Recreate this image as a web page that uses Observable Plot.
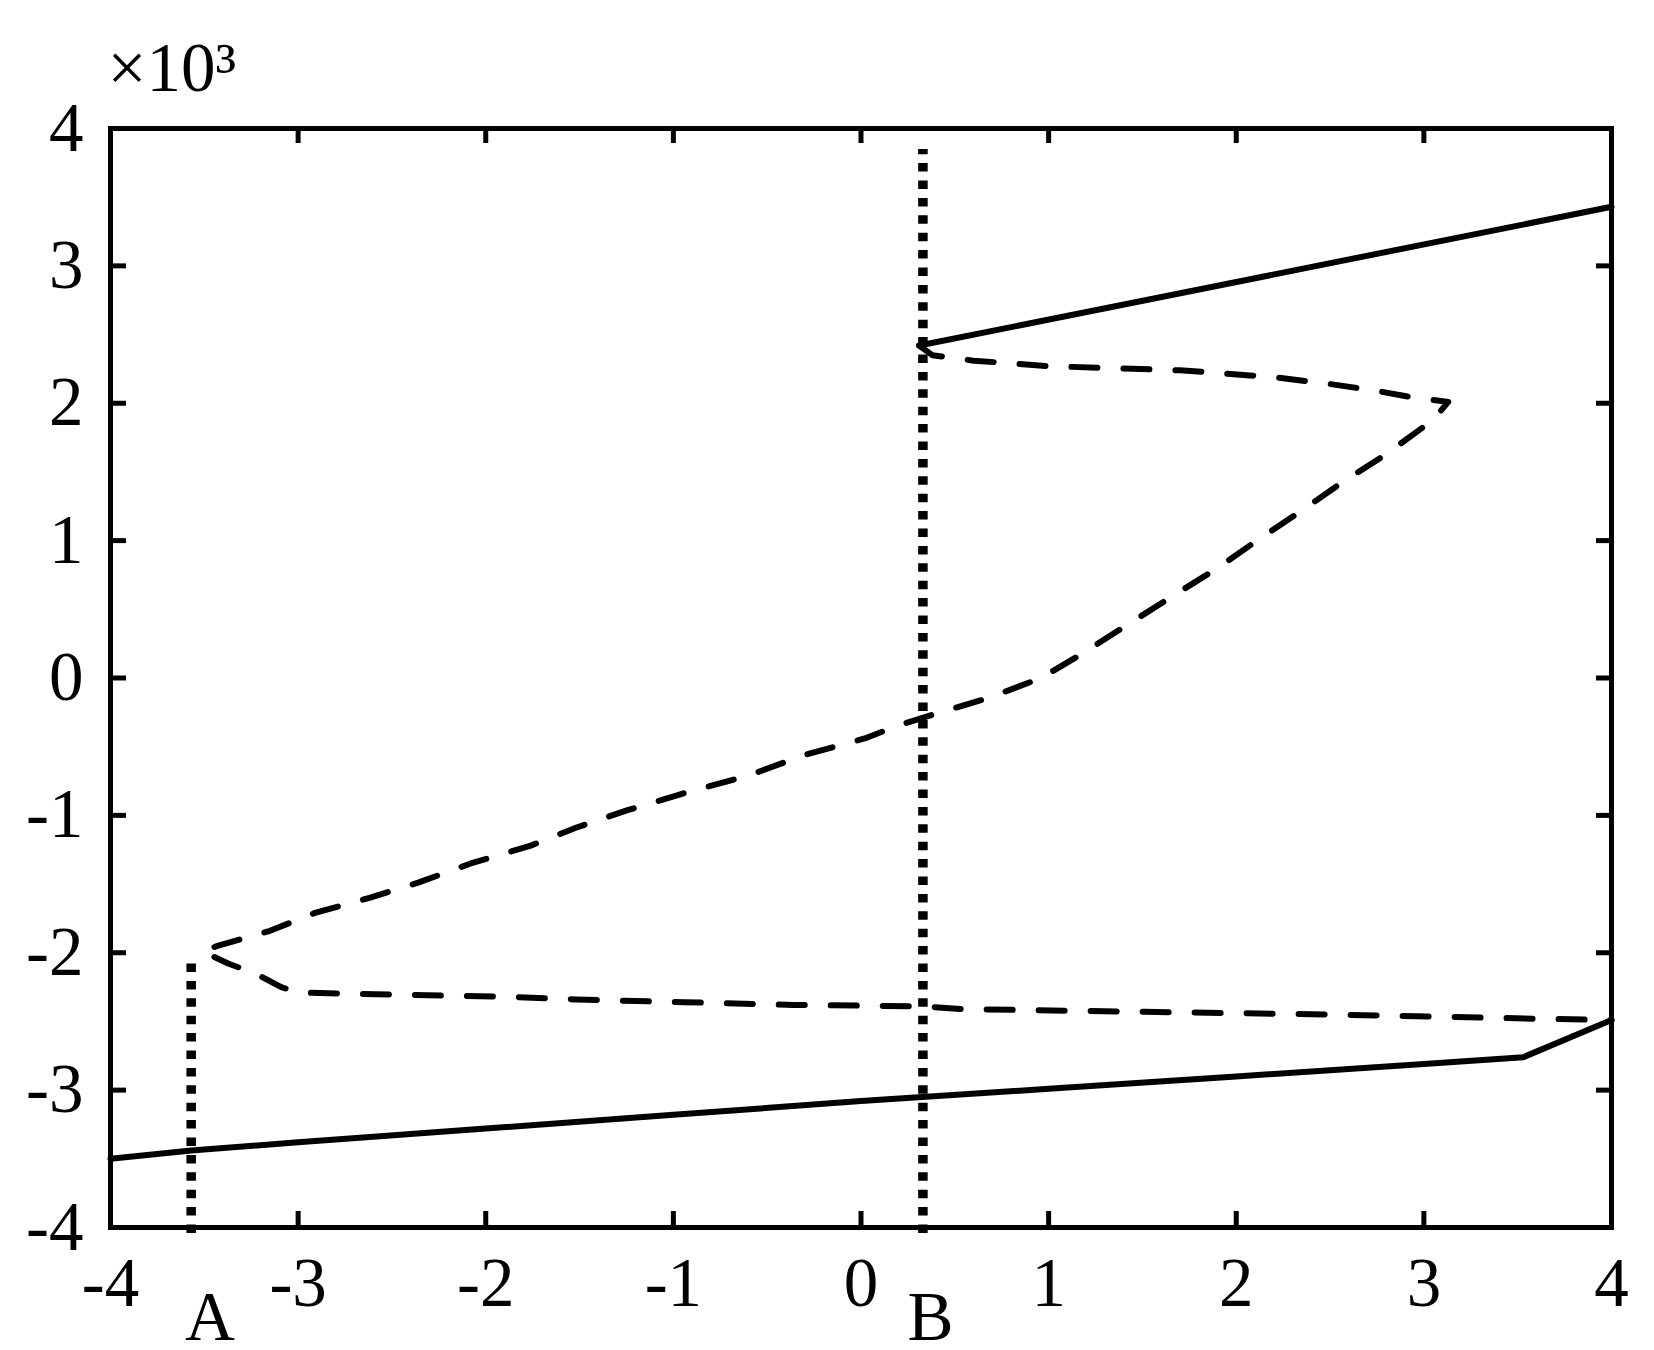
<!DOCTYPE html>
<html><head><meta charset="utf-8">
<script src="https://cdn.jsdelivr.net/npm/d3@7"></script>
<script src="https://cdn.jsdelivr.net/npm/@observablehq/plot@0.6"></script>
<style>html,body{margin:0;padding:0;background:#fff;overflow:hidden}#chart svg{display:block}</style>
</head><body><div id="chart"></div>
<script>
const xTicks = [-4, -3, -2, -1, 0, 1, 2, 3, 4];
const yTicks = [-4, -3, -2, -1, 0, 1, 2, 3, 4];
const exponentLabel = "×10³";

// solid line, lower branch
const lowerSolidX = [-4, -3.57, -3, -2, -1, 0, 1, 2, 3, 3.53, 4];
const lowerSolidY = [-3.5, -3.44, -3.38, -3.28, -3.18, -3.08, -2.99, -2.9, -2.81, -2.76, -2.49];
// solid line, upper branch
const upperSolidX = [0.31, 4.0];
const upperSolidY = [2.42, 3.43];
// dashed curve
const dashedX = [0.31, 0.38, 0.6, 1.0, 1.7, 2.2, 2.5, 2.75, 2.95, 3.13, 3.05, 2.8, 2.56, 2.34, 2.11, 1.9, 1.63, 1.4, 1.17, 0.96, 0.67, 0.42, 0.19, 0.02, -0.3, -0.6, -0.92, -1.24, -1.52, -1.76, -2.08, -2.36, -2.62, -2.91, -3.15, -3.43, -3.51, -3.37, -3.23, -3.09, -3.0, -2.67, -1.89, -1.52, -0.94, -0.36, 0.33, 0.53, 1.51, 2.51, 3.59, 4.0];
const dashedY = [2.42, 2.35, 2.31, 2.27, 2.24, 2.19, 2.14, 2.09, 2.04, 2.01, 1.88, 1.63, 1.42, 1.21, 1.0, 0.8, 0.57, 0.37, 0.17, 0.0, -0.15, -0.25, -0.35, -0.44, -0.56, -0.71, -0.83, -0.96, -1.09, -1.22, -1.35, -1.49, -1.6, -1.71, -1.84, -1.95, -1.99, -2.08, -2.15, -2.25, -2.29, -2.3, -2.32, -2.34, -2.36, -2.38, -2.39, -2.41, -2.43, -2.45, -2.48, -2.49];
// dotted marker lines A and B
const markerNames = ["A", "B"];
const markerX = [-3.57, 0.33];
const markerBottomY = [-4.04, -4.04];
const markerTopY = [-2.07, 3.85];
const markerLabelX = [-3.47, 0.37];

const zip = (xs, ys) => xs.map((x, i) => ({x, y: ys[i]}));
const lowerSolid = zip(lowerSolidX, lowerSolidY);
const upperSolid = zip(upperSolidX, upperSolidY);
const dashed = zip(dashedX, dashedY);
const markers = markerNames.map((name, i) => ({name, x: markerX[i], y1: markerBottomY[i], y2: markerTopY[i], lx: markerLabelX[i]}));

const FS = 69;
const tickOnly = {tickFormat: d => String(d), label: null, stroke: "#000", fill: "none", strokeWidth: 5};
const textOnly = {tickSize: 0, tickFormat: d => String(d), label: null, stroke: "none", fill: "#000", fontSize: FS};
const chart = Plot.plot({
  width: 1654,
  height: 1350,
  marginLeft: 110,
  marginRight: 43,
  marginTop: 128,
  marginBottom: 123,
  style: {fontFamily: "'Liberation Serif', 'Times New Roman', serif", fontSize: FS + "px", background: "#fff", color: "#000"},
  x: {domain: [-4, 4], label: null, axis: null},
  y: {domain: [-4, 4], label: null, axis: null},
  marks: [
    Plot.line(lowerSolid, {x: "x", y: "y", stroke: "#000", strokeWidth: 6}),
    Plot.line(upperSolid, {x: "x", y: "y", stroke: "#000", strokeWidth: 6}),
    Plot.line(dashed, {x: "x", y: "y", stroke: "#000", strokeWidth: 6, strokeDasharray: "26,26", strokeLinecap: "round", strokeLinejoin: "round"}),
    Plot.link(markers, {x1: "x", x2: "x", y1: "y1", y2: "y2", stroke: "#000", strokeWidth: 9.5, strokeDasharray: "8.5,8.9"}),
    Plot.frame({stroke: "#000", strokeWidth: 5}),
    Plot.axisX(xTicks, {anchor: "bottom", tickSize: -16, ...tickOnly}),
    Plot.axisX(xTicks, {anchor: "top", tickSize: -14, ...tickOnly}),
    Plot.axisY(yTicks, {anchor: "left", tickSize: -16, ...tickOnly}),
    Plot.axisY(yTicks, {anchor: "right", tickSize: -16, ...tickOnly}),
    Plot.axisX(xTicks, {anchor: "bottom", tickPadding: 29, ...textOnly}),
    Plot.axisY(yTicks, {anchor: "left", tickPadding: 27, ...textOnly}),
    Plot.text([exponentLabel], {frameAnchor: "top-left", text: d => d, textAnchor: "start", lineAnchor: "bottom", dx: -3, dy: -38, fill: "#000", fontSize: FS}),
    Plot.text(markers, {x: "lx", frameAnchor: "bottom", text: "name", lineAnchor: "bottom", dy: 112, fill: "#000", fontSize: FS})
  ]
});
document.getElementById("chart").appendChild(chart);
</script>
</body></html>
